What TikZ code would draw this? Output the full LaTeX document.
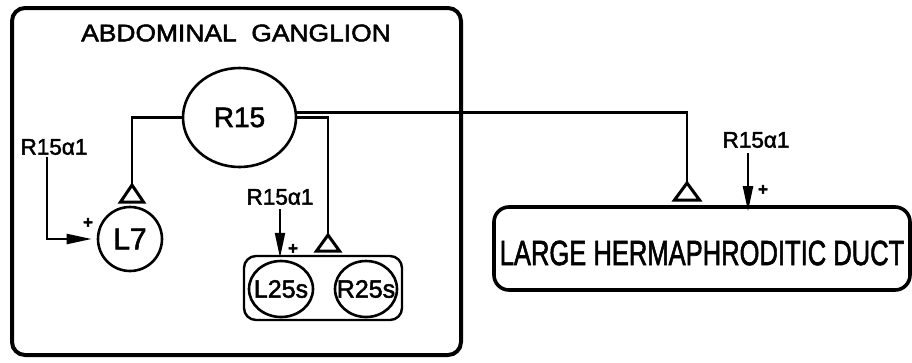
\documentclass[tikz,border=0pt]{standalone}
\usepackage{fontspec}
\setmainfont{Liberation Sans}[FakeBold=2]
\usetikzlibrary{arrows.meta,shapes.geometric}
\begin{document}
\begin{tikzpicture}[x=1pt,y=-1pt,
  frame/.style={draw, line width=4pt, rounded corners=13pt, inner sep=0pt},
  smallbox/.style={draw, line width=2.4pt, rounded corners=12pt, inner sep=0pt, minimum width=158pt, minimum height=64pt},
  cell/.style={draw, ellipse, line width=2.6pt, inner sep=0pt},
  wire/.style={line width=2.2pt},
  syn/.style={draw, line width=3pt, line join=miter},
  arr/.style={line width=2.2pt, -{Triangle[length=25pt, width=10pt]}},
  albl/.style={font=\fontsize{22.5}{24}\selectfont, inner sep=0pt},
  plus/.style={font=\fontsize{17}{18}\selectfont\bfseries, inner sep=0pt}
]
\useasboundingbox (0,0) rectangle (912,362);
\fill[white] (0,0) rectangle (912,362);

% outer ganglion frame
\node[frame, minimum width=449pt, minimum height=347pt] (gang) at (236.5,181.5) {};
\node[inner sep=0pt, font=\fontsize{24}{26}\selectfont] (title) at (236,33) {\scalebox{1.1}[1]{ABDOMINAL\ \ GANGLION}};

% neurons
\node[cell, minimum width=113pt, minimum height=99pt, font=\fontsize{28}{30}\selectfont] (R15) at (239.5,117.5) {R15};
\node[cell, circle, minimum size=64pt, font=\fontsize{30}{32}\selectfont] (L7) at (130,239) {L7};
\node[smallbox] (bx) at (323,288) {};
\node[cell, minimum width=64pt, minimum height=56pt, label={[font=\fontsize{25}{27}\selectfont, inner sep=0pt]center:L25s}] (L25) at (281,289) {};
\node[cell, minimum width=62pt, minimum height=56pt, label={[font=\fontsize{25}{27}\selectfont, inner sep=0pt]center:R25s}] (R25) at (366,289) {};

% duct
\node[frame, line width=3.6pt, rounded corners=15pt, minimum width=416pt, minimum height=83pt,
  label={[font=\fontsize{35}{37}\selectfont, inner sep=0pt, yshift=-4.5pt]center:\scalebox{0.73}[1]{LARGE HERMAPHRODITIC DUCT}}] (duct) at (702,248.5) {};

% synapse apexes
\coordinate (t1) at (132,185);
\coordinate (t2) at (328,235);
\coordinate (t3) at (687,183);

% R15 outputs
\draw[wire] (R15.west) -| (t1);
\draw[wire] (R15.east) -| (t2);
\draw[wire] (R15.5.6) -| (t3);

% synapse triangles
\draw[syn] (t1) -- ++(11.5,17) -- ++(-23,0) -- cycle;
\draw[syn] (t2) -- ++(11.5,16) -- ++(-23,0) -- cycle;
\draw[syn] (t3) -- ++(12.5,17) -- ++(-25,0) -- cycle;

% R15 alpha 1 inputs
\node[albl] (a1) at (54,147) {R15α1};
\node[albl] (a2) at (280,197) {R15α1};
\node[albl] (a3) at (756,140) {R15α1};

\coordinate (p1) at (47,157);
\coordinate (p2) at (280,209);
\coordinate (p3) at (748,153);

\draw[arr] (p1) |- ([xshift=-5pt]L7.west);
\draw[arr] (p2) -- ([yshift=-3pt]p2 |- bx.north);
\draw[arr] (p3) -- ([yshift=-6pt]p3 |- duct.north);

\node[plus] (s1) at (88,223) {+};
\node[plus] (s2) at (293,249) {+};
\node[plus] (s3) at (763,190) {+};
\end{tikzpicture}
\end{document}
